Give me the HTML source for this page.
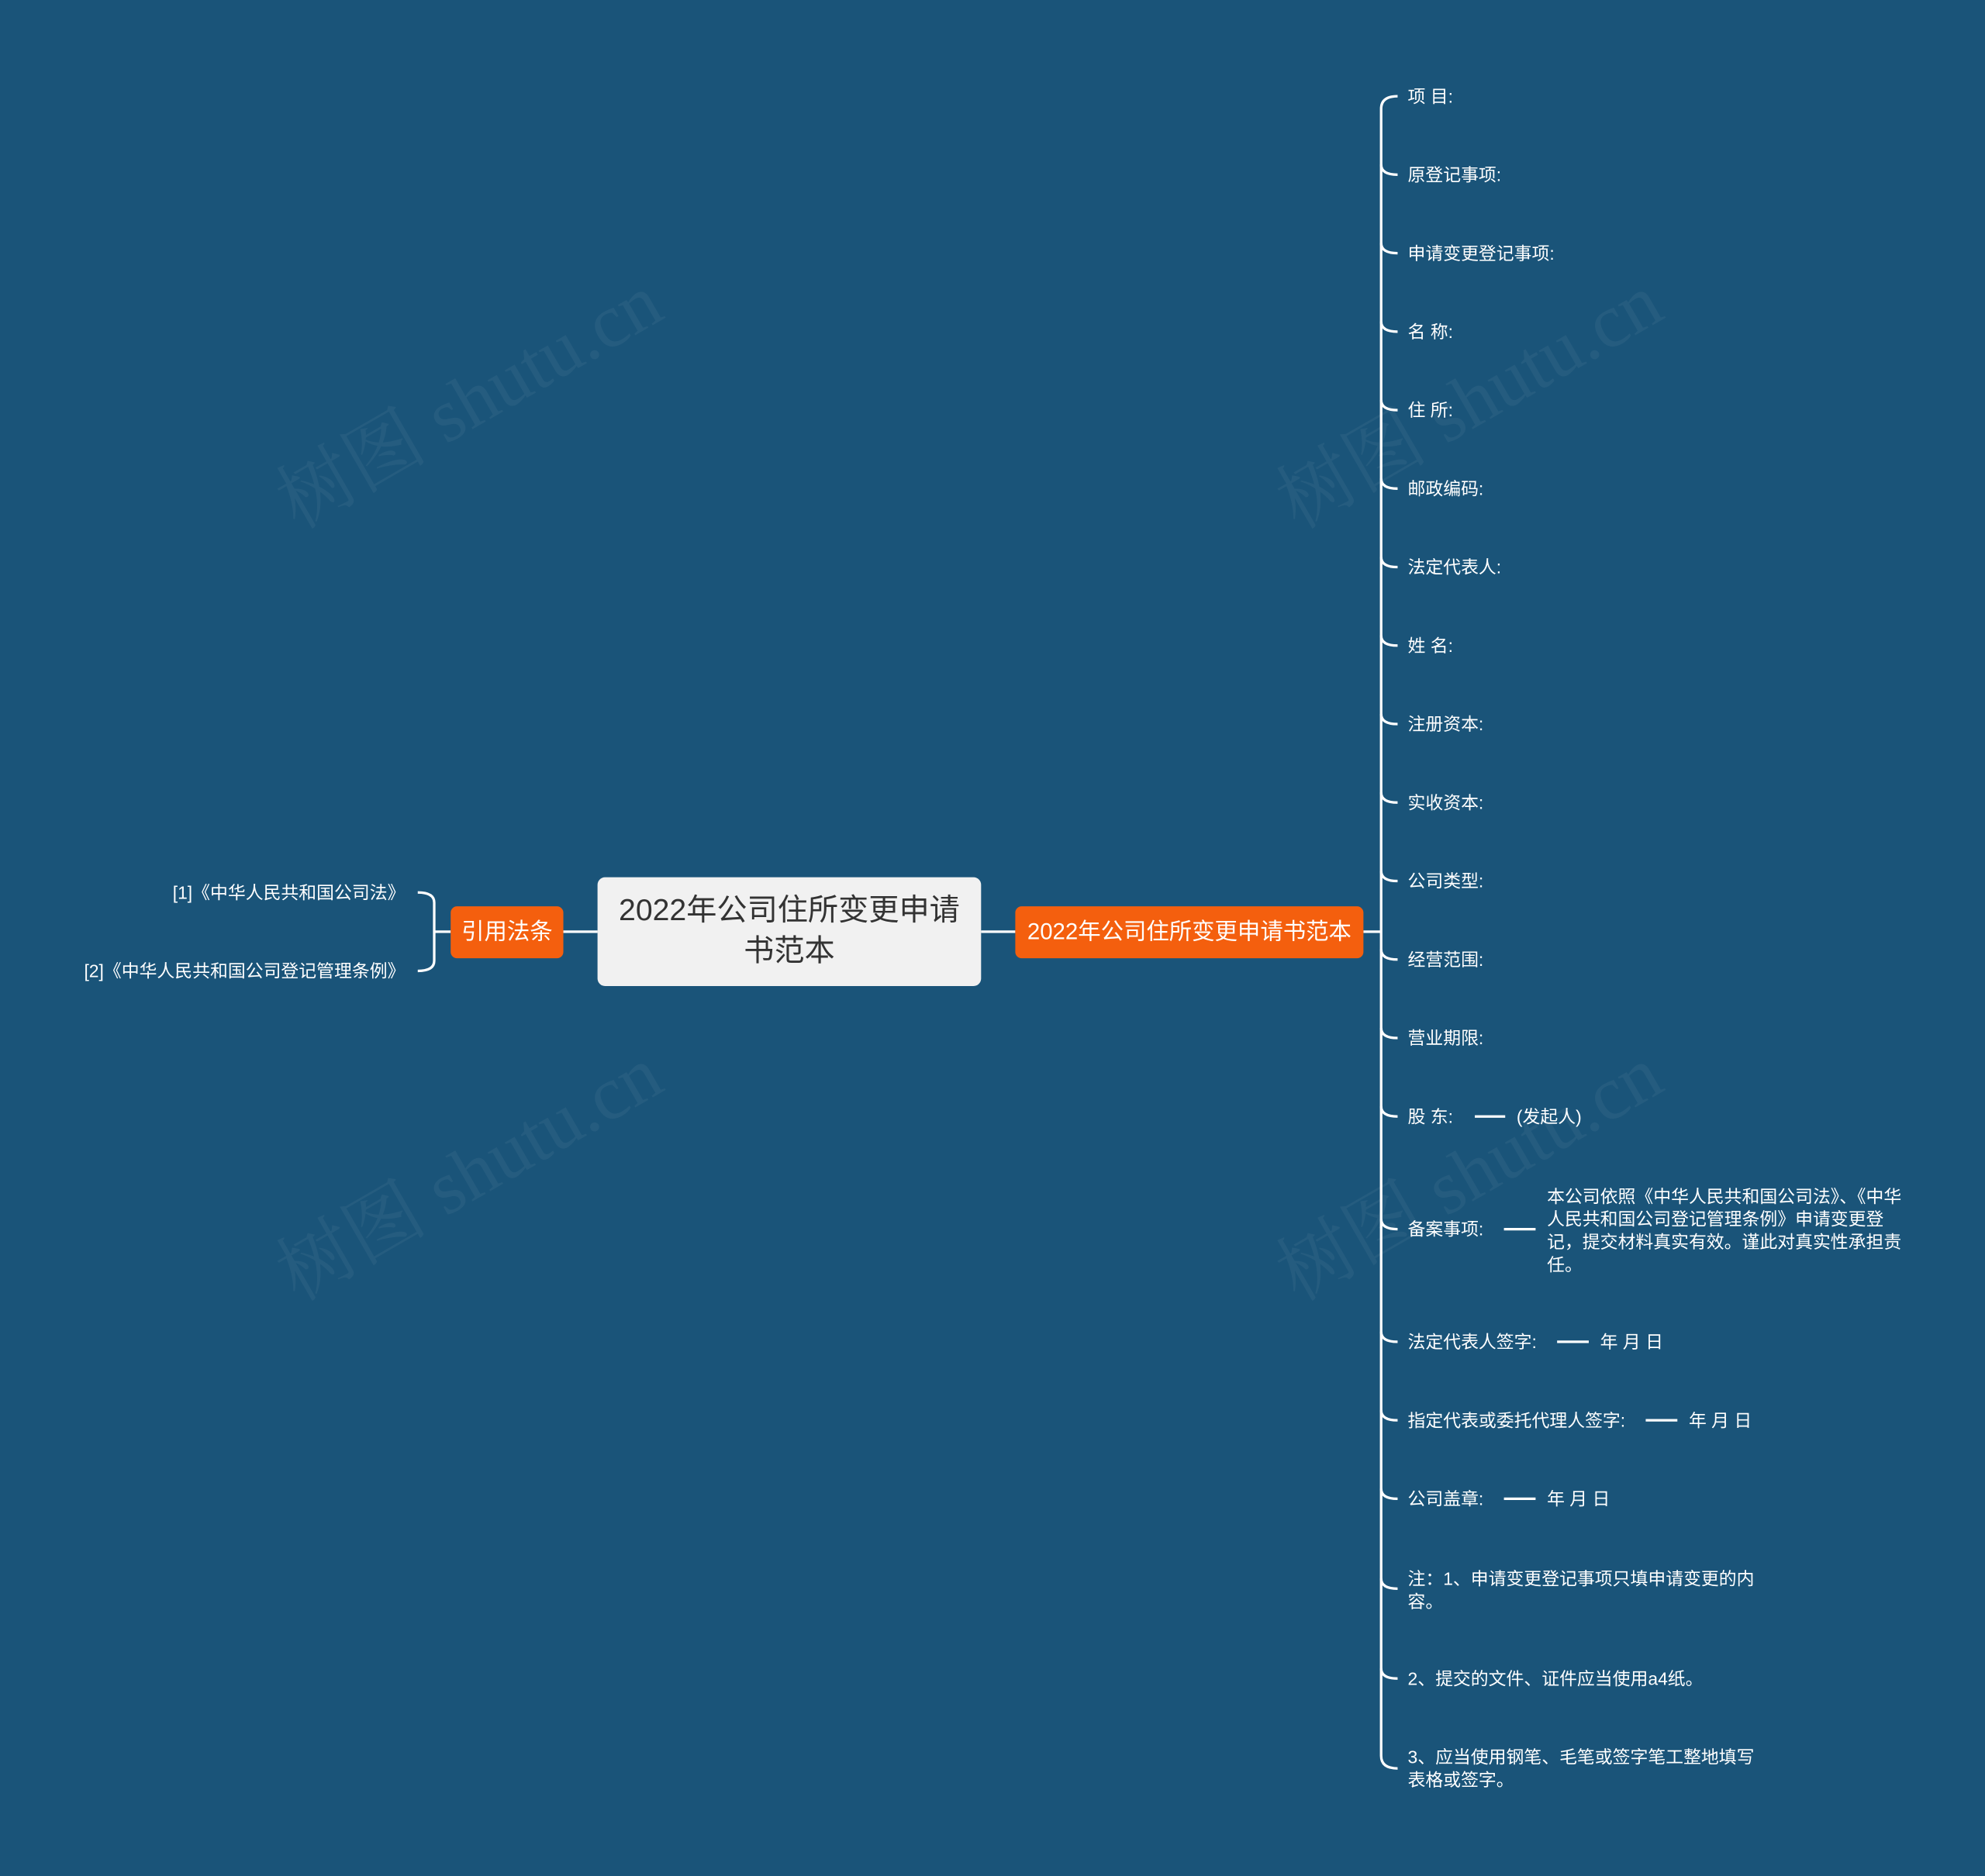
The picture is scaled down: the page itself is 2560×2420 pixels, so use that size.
<!DOCTYPE html>
<html><head><meta charset="utf-8"><style>
html,body{margin:0;padding:0;background:#1a5479;}
#w{width:1568px;height:1482px;position:relative;transform:scale(1.63265,1.63293);transform-origin:0 0;font-family:"Liberation Sans","Noto Sans CJK SC",sans-serif;color:#fff;overflow:hidden;background:#1a5479}
.t{position:absolute;font-size:14px;white-space:nowrap;line-height:18px}
.wm{position:absolute;font-family:"Liberation Serif","Noto Serif CJK SC",serif;font-size:60px;color:rgba(255,255,255,0.05);transform:rotate(-30deg);white-space:nowrap}
</style></head><body><div id="w">
<div class="wm" style="left:200px;top:270px">树图 shutu.cn</div>
<div class="wm" style="left:990px;top:270px">树图 shutu.cn</div>
<div class="wm" style="left:200px;top:880px">树图 shutu.cn</div>
<div class="wm" style="left:990px;top:880px">树图 shutu.cn</div>
<svg width="1568" height="1482" style="position:absolute;left:0;top:0" fill="none" stroke="#fff" stroke-width="2">
<line x1="445" y1="736" x2="472" y2="736"/>
<line x1="775" y1="736" x2="802" y2="736"/>
<line x1="1077" y1="736" x2="1091" y2="736"/>
<line x1="343" y1="736" x2="356" y2="736"/>
<path d="M330,705 Q343,705 343,713 L343,759 Q343,767 330,767"/>
<path d="M1104,76 Q1091,76 1091,86 L1091,1387 Q1091,1397 1104,1397"/>
<line x1="1165" y1="882" x2="1189" y2="882"/>
<line x1="1188" y1="971" x2="1213" y2="971"/>
<line x1="1230" y1="1060" x2="1255" y2="1060"/>
<line x1="1300" y1="1122" x2="1325" y2="1122"/>
<line x1="1188" y1="1184" x2="1213" y2="1184"/>
<path d="M1091,130 Q1091,138 1104,138M1091,192 Q1091,200 1104,200M1091,254 Q1091,262 1104,262M1091,316 Q1091,324 1104,324M1091,378 Q1091,386 1104,386M1091,440 Q1091,448 1104,448M1091,502 Q1091,510 1104,510M1091,564 Q1091,572 1104,572M1091,626 Q1091,634 1104,634M1091,688 Q1091,696 1104,696M1091,750 Q1091,758 1104,758M1091,812 Q1091,820 1104,820M1091,874 Q1091,882 1104,882M1091,963 Q1091,971 1104,971M1091,1052 Q1091,1060 1104,1060M1091,1114 Q1091,1122 1104,1122M1091,1176 Q1091,1184 1104,1184M1091,1247 Q1091,1255 1104,1255M1091,1318 Q1091,1326 1104,1326"/>
</svg>
<div style="position:absolute;left:472px;top:693px;width:303px;height:86px;background:#f1f1f1;border-radius:6px;color:#333;font-size:24px;line-height:32px;text-align:center;display:flex;align-items:center;justify-content:center">2022年公司住所变更申请<br>书范本</div>
<div style="position:absolute;left:802px;top:716px;width:275px;height:41px;background:#f45f0e;border-radius:5px;font-size:18px;line-height:41px;text-align:center">2022年公司住所变更申请书范本</div>
<div style="position:absolute;left:356px;top:716px;width:89px;height:41px;background:#f45f0e;border-radius:5px;font-size:18px;line-height:41px;text-align:center">引用法条</div>
<div class="t" style="right:1248px;top:696px">[1]《中华人民共和国公司法》</div>
<div class="t" style="right:1248px;top:758px">[2]《中华人民共和国公司登记管理条例》</div>
<div class="t" style="left:1112px;top:67px">项 目:</div>
<div class="t" style="left:1112px;top:129px">原登记事项:</div>
<div class="t" style="left:1112px;top:191px">申请变更登记事项:</div>
<div class="t" style="left:1112px;top:253px">名 称:</div>
<div class="t" style="left:1112px;top:315px">住 所:</div>
<div class="t" style="left:1112px;top:377px">邮政编码:</div>
<div class="t" style="left:1112px;top:439px">法定代表人:</div>
<div class="t" style="left:1112px;top:501px">姓 名:</div>
<div class="t" style="left:1112px;top:563px">注册资本:</div>
<div class="t" style="left:1112px;top:625px">实收资本:</div>
<div class="t" style="left:1112px;top:687px">公司类型:</div>
<div class="t" style="left:1112px;top:749px">经营范围:</div>
<div class="t" style="left:1112px;top:811px">营业期限:</div>
<div class="t" style="left:1112px;top:873px">股 东:</div>
<div class="t" style="left:1198px;top:873px">(发起人)</div>
<div class="t" style="left:1112px;top:962px">备案事项:</div>
<div class="t" style="left:1222px;top:936px;white-space:normal;width:284px">本公司依照《中华人民共和国公司法》、《中华人民共和国公司登记管理条例》申请变更登记，提交材料真实有效。谨此对真实性承担责任。</div>
<div class="t" style="left:1112px;top:1051px">法定代表人签字:</div>
<div class="t" style="left:1264px;top:1051px">年 月 日</div>
<div class="t" style="left:1112px;top:1113px">指定代表或委托代理人签字:</div>
<div class="t" style="left:1334px;top:1113px">年 月 日</div>
<div class="t" style="left:1112px;top:1175px">公司盖章:</div>
<div class="t" style="left:1222px;top:1175px">年 月 日</div>
<div class="t" style="left:1112px;top:1238px">注：1、申请变更登记事项只填申请变更的内<br>容。</div>
<div class="t" style="left:1112px;top:1317px">2、提交的文件、证件应当使用a4纸。</div>
<div class="t" style="left:1112px;top:1379px">3、应当使用钢笔、毛笔或签字笔工整地填写<br>表格或签字。</div>
</div></body></html>
